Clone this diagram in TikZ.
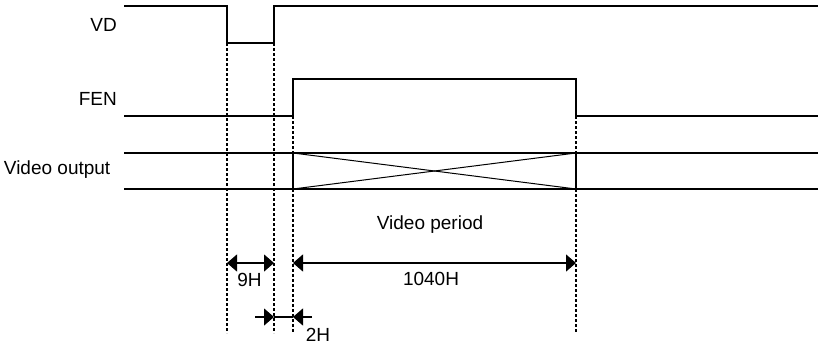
\documentclass[tikz,border=0pt]{standalone}
\usepackage{fontspec}
\setmainfont{Liberation Sans}
\usetikzlibrary{arrows.meta}
\begin{document}
\begin{tikzpicture}[x=1pt,y=-1pt,
  sig/.style={line width=1.3pt},
  guide/.style={line width=1.1pt,dash pattern=on 3pt off 2pt},
  dim/.style={line width=1.3pt,-{Triangle[length=10pt,width=17pt]}},
  dimboth/.style={line width=1.3pt,{Triangle[length=10pt,width=17pt]}-{Triangle[length=10pt,width=17pt]}},
  lbl/.style={inner sep=0pt,font=\fontsize{19}{22}\selectfont},
  rlbl/.style={lbl,anchor=east}]
\useasboundingbox (0,0) rectangle (818,345);
% signal labels
\node[rlbl] (vd) at (117,24.5) {VD};
\node[rlbl] (fen) at (117,98.5) {FEN};
\node[rlbl] (vo) at (110.5,170) {Video output};
% VD
\draw[sig] (124,6) -- (227,6) -- (227,43) -- (274,43) -- (274,6) -- (818,6);
% FEN
\draw[sig] (124,116) -- (293,116) -- (293,79) -- (576,79) -- (576,116) -- (818,116);
% Video output
\draw[sig] (124,153) -- (818,153);
\draw[sig] (124,189) -- (818,189);
\draw[sig] (293,153) -- (293,189);
\draw[sig] (576,153) -- (576,189);
\draw[line width=1pt] (293,153) -- (576,189);
\draw[line width=1pt] (293,189) -- (576,153);
% guides
\draw[guide] (227,43) -- (227,333);
\draw[guide] (274,43) -- (274,333);
\draw[guide] (293,116) -- (293,153);
\draw[guide] (293,189) -- (293,333);
\draw[guide] (576,116) -- (576,153);
\draw[guide] (576,189) -- (576,333);
% dimensions
\coordinate (p9a) at (227,263);
\coordinate (p9b) at (274,263);
\draw[dimboth] (p9a) -- (p9b);
\node[lbl] (t9) at (249.5,280) {9H};
\coordinate (p1a) at (293,263);
\coordinate (p1b) at (576,263);
\draw[dimboth] (p1a) -- (p1b);
\node[lbl] (t1040) at (431,278.5) {1040H};
\node[lbl] (tvp) at (430,225) {Video period};
\coordinate (q0) at (255,317);
\coordinate (q1) at (274,317);
\coordinate (q2) at (293,317);
\coordinate (q3) at (312,317);
\draw[dim] (q0) -- (q1);
\draw[dim] (q3) -- (q2);
\draw[line width=1.3pt] (q1) -- (q2);
\node[lbl] (t2) at (318,334.5) {2H};
\end{tikzpicture}
\end{document}
